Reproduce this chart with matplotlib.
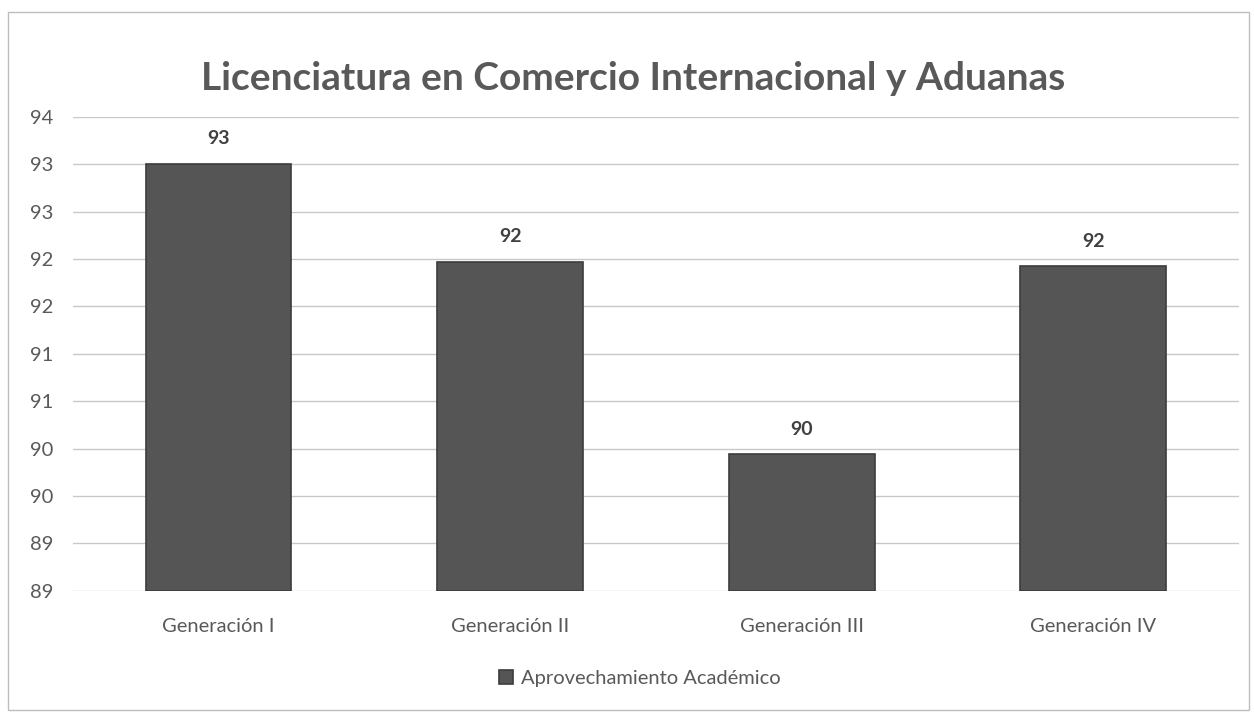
import numpy as np
import matplotlib.pyplot as plt
from matplotlib.ticker import FuncFormatter
from matplotlib.patches import Rectangle

# --------------------------------------------------------------------------
# Data
# --------------------------------------------------------------------------
TITLE = "Licenciatura en Comercio Internacional y Aduanas"
SERIES = "Aprovechamiento Académico"
categories = ["Generación I", "Generación II", "Generación III", "Generación IV"]
values = [93.0, 91.97, 89.94, 91.92]
y_min, y_max, y_step = 88.5, 93.5, 0.5

BAR_COLOR = "#555555"
TEXT_COLOR = "#595959"

plt.rcParams["font.family"] = ["Lato", "DejaVu Sans"]

# --------------------------------------------------------------------------
# Plot
# --------------------------------------------------------------------------
fig = plt.figure(figsize=(12.54, 7.16), dpi=100)
ax = fig.add_axes([0.058, 0.175, 0.93, 0.662])

x = np.arange(len(categories))
bars = ax.bar(x, [v - y_min for v in values], bottom=y_min, width=0.5,
              color=BAR_COLOR, edgecolor="#3c3c3c", linewidth=1.2,
              label=SERIES, zorder=3)

for xi, v in zip(x, values):
    ax.annotate(f"{int(np.floor(v + 0.5))}", (xi, v), xytext=(0, 12),
                textcoords="offset points", ha="center", va="bottom",
                fontsize=14, fontweight="bold", color="#404040")

ax.set_xlim(-0.5, len(categories) - 0.5)
ax.set_ylim(y_min, y_max)
ax.set_yticks(np.arange(y_min, y_max + y_step / 2, y_step))
ax.yaxis.set_major_formatter(
    FuncFormatter(lambda v, p: f"{int(np.floor(round(v, 3) + 0.5))}"))
ax.set_xticks(x)
ax.set_xticklabels(categories)
ax.tick_params(axis="both", length=0, colors=TEXT_COLOR, labelsize=14.5)
ax.tick_params(axis="x", pad=20)
ax.tick_params(axis="y", pad=14)
ax.grid(axis="y", color="#c8c8c8", linewidth=1.0, zorder=0)
for s in ax.spines.values():
    s.set_visible(False)

fig.suptitle(TITLE, x=0.505, y=0.915, fontsize=28, fontweight="bold",
             color=TEXT_COLOR)

fig.legend(handles=[bars], labels=[SERIES], loc="center",
           bbox_to_anchor=(0.51, 0.052), frameon=False, fontsize=14.5,
           handlelength=0.7, handleheight=0.7, handletextpad=0.4,
           labelcolor=TEXT_COLOR)

# faint chart-area border
fig.patches.append(Rectangle((0.006, 0.008), 0.99, 0.975, transform=fig.transFigure,
                             fill=False, edgecolor="#bdbdbd", linewidth=1.0))

fig.savefig("out.png", dpi=100)
